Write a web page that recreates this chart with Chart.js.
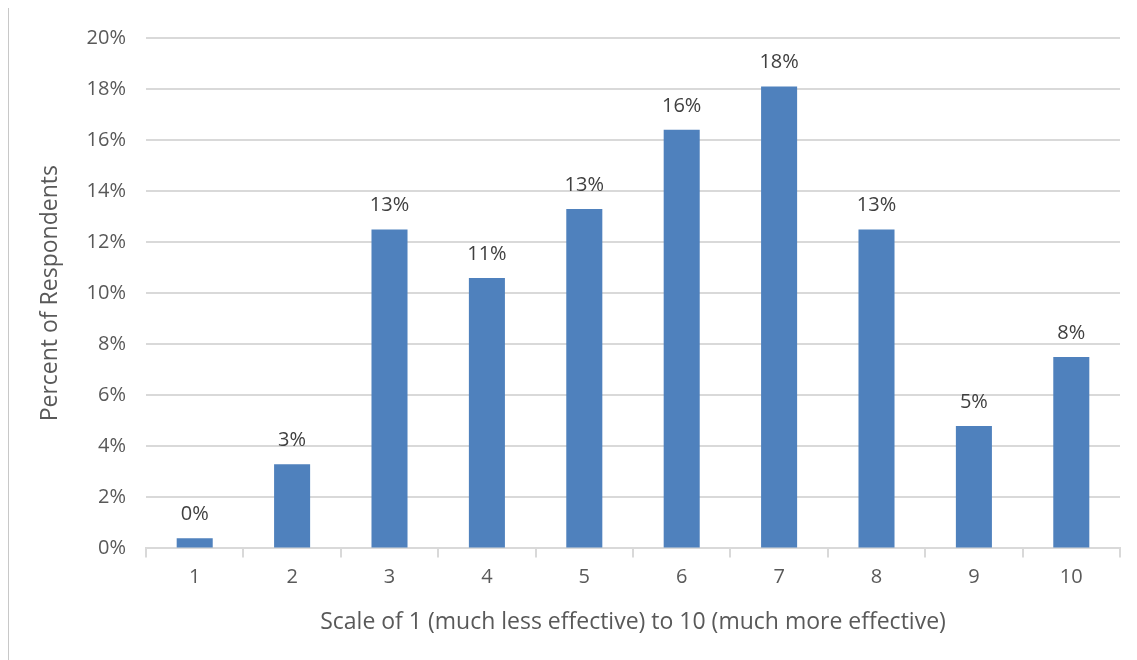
<!DOCTYPE html>
<html>
<head>
<meta charset="utf-8">
<script src="https://cdn.jsdelivr.net/npm/chart.js@4.4.0/dist/chart.umd.min.js"></script>
<style>
  html, body { margin: 0; padding: 0; background: #fff; }
  #wrap { position: relative; width: 1137px; height: 660px; }
  #frame { position: absolute; left: 8px; top: 8px; bottom: 0; width: 1px; background: #c8c8c8; }
</style>
</head>
<body>
<div id="wrap">
  <div id="frame"></div>
  <canvas id="effChart" width="1137" height="660"></canvas>
</div>
<script>
// data
var categories = ['1', '2', '3', '4', '5', '6', '7', '8', '9', '10'];
var percents = [0.4, 3.3, 12.5, 10.6, 13.3, 16.4, 18.1, 12.5, 4.8, 7.5];
var valueLabels = ['0%', '3%', '13%', '11%', '13%', '16%', '18%', '13%', '5%', '8%'];
var yTicks = [0, 2, 4, 6, 8, 10, 12, 14, 16, 18, 20];

var fontFamily = "'Open Sans', 'Noto Sans', sans-serif";
var textColor = '#595959';
var gridColor = '#d9d9d9';

// labels above bars
var barLabels = {
  id: 'barLabels',
  afterDatasetsDraw: function(chart) {
    var ctx = chart.ctx;
    var meta = chart.getDatasetMeta(0);
    ctx.save();
    ctx.font = '20px ' + fontFamily;
    ctx.fillStyle = '#404040';
    ctx.textAlign = 'center';
    ctx.textBaseline = 'bottom';
    meta.data.forEach(function(bar, i) {
      ctx.fillText(valueLabels[i], bar.x, bar.y - 14);
    });
    ctx.restore();
  }
};

var ctx = document.getElementById('effChart').getContext('2d');
new Chart(ctx, {
  type: 'bar',
  data: {
    labels: categories,
    datasets: [{
      data: percents,
      backgroundColor: '#4f81bd',
      categoryPercentage: 1,
      barPercentage: 0.37
    }]
  },
  options: {
    responsive: false,
    animation: false,
    layout: { padding: { left: 33, right: 17, top: 38, bottom: 20 } },
    plugins: {
      legend: { display: false },
      tooltip: { enabled: false }
    },
    scales: {
      x: {
        grid: {
          offset: true,
          drawOnChartArea: false,
          drawTicks: true,
          tickLength: 9,
          color: gridColor,
          lineWidth: 2
        },
        border: { color: gridColor, width: 2 },
        ticks: { color: textColor, font: { family: fontFamily, size: 20 }, padding: 8 },
        title: {
          display: true,
          text: 'Scale of 1 (much less effective) to 10 (much more effective)',
          color: textColor,
          font: { family: fontFamily, size: 23 },
          padding: { top: 11 }
        }
      },
      y: {
        min: 0,
        max: 20,
        afterBuildTicks: function(axis) {
          axis.ticks = yTicks.map(function(v) { return { value: v }; });
        },
        grid: { color: gridColor, lineWidth: 2, drawTicks: false },
        border: { display: false },
        ticks: {
          color: textColor,
          font: { family: fontFamily, size: 20 },
          padding: 20,
          callback: function(v) { return v + '%'; }
        },
        title: {
          display: true,
          text: 'Percent of Respondents',
          color: textColor,
          font: { family: fontFamily, size: 23 },
          padding: { bottom: 2 }
        }
      }
    }
  },
  plugins: [barLabels]
});
</script>
</body>
</html>
